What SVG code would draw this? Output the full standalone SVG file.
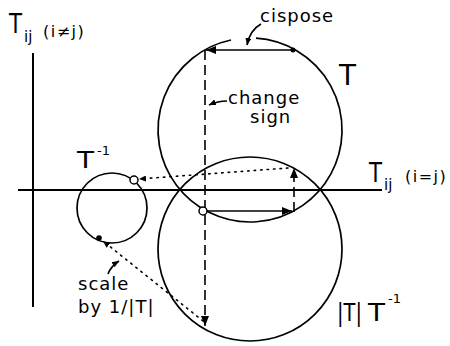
<svg xmlns="http://www.w3.org/2000/svg" width="450" height="346" viewBox="0 0 450 346">
<style>
.ln{fill:none;stroke:#000;stroke-width:1.7}
.ax{fill:none;stroke:#000;stroke-width:2}
.dash{fill:none;stroke:#000;stroke-width:1.6;stroke-dasharray:10 5}
.dot{fill:none;stroke:#000;stroke-width:1.6;stroke-dasharray:1.5 5;stroke-linecap:round}
text{font-family:"DejaVu Sans","Liberation Sans",sans-serif;fill:#000}
.lab{font-size:18px;letter-spacing:1px}
</style>
<defs>
<marker id="ah" markerUnits="userSpaceOnUse" markerWidth="10" markerHeight="8" refX="10" refY="4" orient="auto"><path d="M0,0 L10,4 L0,8 z" fill="#000"/></marker>
<marker id="as" markerUnits="userSpaceOnUse" markerWidth="7" markerHeight="6" refX="7" refY="3" orient="auto"><path d="M0,0 L7,3 L0,6 z" fill="#000"/></marker>
</defs>
<g id="axes">
<line class="ax" x1="18" y1="190" x2="382" y2="190"/>
<line class="ax" x1="33" y1="53" x2="33" y2="307"/>
<text x="9" y="33" font-size="27" textLength="13" lengthAdjust="spacingAndGlyphs">T</text><text x="24" y="42" font-size="15">ij</text>
<text x="43" y="37" font-size="16" letter-spacing="1.5">(i≠j)</text>
<text x="369" y="182" font-size="27" textLength="13" lengthAdjust="spacingAndGlyphs">T</text><text x="384" y="190" font-size="15">ij</text>
<text x="405" y="182" font-size="16" letter-spacing="1.5">(i=j)</text>
</g>
<g id="circleT">
<path class="ln" d="M256,38.2 A92,92 0 1 1 231,40"/>
<text x="339" y="85" font-size="28" textLength="17" lengthAdjust="spacingAndGlyphs">T</text>
</g>
<g id="circleTT">
<circle class="ln" cx="250" cy="249" r="92"/>
<text x="337" y="321" font-size="25" textLength="25" lengthAdjust="spacingAndGlyphs">|T|</text>
<text x="368" y="321" font-size="25" textLength="17" lengthAdjust="spacingAndGlyphs">T</text>
<text x="388" y="303" font-size="13">-1</text>
</g>
<g id="circleTinv">
<circle class="ln" cx="112" cy="208" r="35"/>
<text x="77" y="168" font-size="23" textLength="17" lengthAdjust="spacingAndGlyphs">T</text>
<text x="97" y="155" font-size="13">-1</text>
</g>
<g id="connectors">
<line class="ln" x1="293" y1="50" x2="206" y2="50" marker-end="url(#ah)"/>
<circle cx="293" cy="50" r="2.5" fill="#000"/>
<line class="dash" x1="205" y1="50" x2="205" y2="326" marker-end="url(#ah)"/>
<line class="dot" x1="203" y1="321" x2="103" y2="241" marker-end="url(#as)"/>
<circle cx="99" cy="238" r="2.8" fill="#000"/>
<line class="ln" x1="207" y1="211" x2="292" y2="211" marker-end="url(#ah)"/>
<line class="dash" x1="294" y1="212" x2="294" y2="168" marker-end="url(#ah)"/>
<line class="dot" x1="288" y1="168" x2="139" y2="179" marker-end="url(#as)"/>
<circle cx="203" cy="211" r="4" fill="#fff" stroke="#000" stroke-width="1.5"/>
<circle cx="134" cy="180" r="4" fill="#fff" stroke="#000" stroke-width="1.5"/>
<path class="ln" d="M261,24 Q250,30 247,45" marker-end="url(#as)"/>
<path class="ln" d="M227,101 Q218,101 209,105" marker-end="url(#as)"/>
<path class="ln" d="M108,274 Q111,266 119,261" marker-end="url(#as)"/>
</g>
<g id="labels">
<text class="lab" x="260" y="22">cispose</text>
<text class="lab" x="228" y="104">change</text>
<text class="lab" x="250" y="123">sign</text>
<text class="lab" x="78" y="290">scale</text>
<text class="lab" x="78" y="313">by 1/|T|</text>
</g>
</svg>
